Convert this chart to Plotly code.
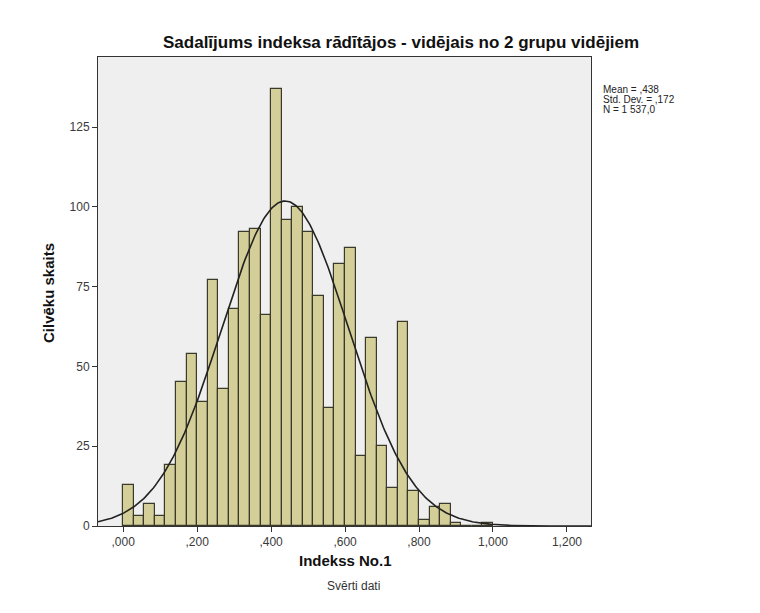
import numpy as np
import plotly.graph_objects as go

# histogram counts, bins of width 1/35 starting at 0
counts = [13, 3, 7, 3, 19, 45, 54, 39, 77, 43, 68, 92, 93, 66, 137, 96, 100, 92,
          72, 37, 82, 87, 22, 59, 25, 12, 64, 11, 2, 6, 7, 1, 0, 0, 1]
bin_start = 0.0
bin_width = 1 / 35

mean_val = 0.438
std_val = 0.172
n_val = 1537.0

x_tickvals = [0.0, 0.2, 0.4, 0.6, 0.8, 1.0, 1.2]
x_ticktext = [",000", ",200", ",400", ",600", ",800", "1,000", "1,200"]
y_tickvals = [0, 25, 50, 75, 100, 125]

title = "Sadalījums indeksa rādītājos - vidējais no 2 grupu vidējiem"
x_title = "Indekss No.1"
y_title = "Cilvēku skaits"
footer = "Svērti dati"
stats_lines = ["Mean = ,438", "Std. Dev. = ,172", "N = 1 537,0"]

FONT = "Liberation Sans, Arial, sans-serif"
W, H = 760, 613
L, R, T, B = 90, 583, 49, 518  # plot area in pixels
x_range = [-0.068, 1.265]
y_range = [0, 147]


def px(x):
    return (x - L) / (R - L)


def py(y):
    return (B - y) / (B - T)


centers = bin_start + bin_width * (np.arange(len(counts)) + 0.5)

fig = go.Figure()
fig.add_trace(go.Bar(
    x=centers,
    y=counts,
    width=bin_width,
    marker=dict(color="#d4cf98", line=dict(color="#3a3a2c", width=1.2)),
    hoverinfo="x+y",
))

# fitted normal curve from the reported statistics
xs = np.linspace(x_range[0], x_range[1], 400)
ys = n_val * bin_width / (std_val * np.sqrt(2 * np.pi)) * np.exp(-0.5 * ((xs - mean_val) / std_val) ** 2)
fig.add_trace(go.Scatter(x=xs, y=ys, mode="lines", line=dict(color="#222222", width=1.6), hoverinfo="skip"))

anns = [
    dict(text=f"<b>{title}</b>", x=px(393), y=py(35), font=dict(size=17, color="#111111")),
    dict(text=f"<b>{y_title}</b>", x=px(40), y=py(285), textangle=-90, font=dict(size=15, color="#111111")),
    dict(text=f"<b>{x_title}</b>", x=px(337), y=py(552), font=dict(size=15, color="#111111")),
    dict(text=footer, x=px(345), y=py(578), font=dict(size=12, color="#333333")),
]
for i, line in enumerate(stats_lines):
    anns.append(dict(text=line, x=px(593), y=py(81 + 10 * i), xanchor="left",
                     font=dict(size=10, color="#222222")))
for a in anns:
    a.setdefault("xanchor", "center")
    a.update(xref="paper", yref="paper", yanchor="middle", showarrow=False)

fig.update_layout(
    width=W, height=H,
    margin=dict(l=L, r=W - R, t=T, b=H - B, pad=0),
    paper_bgcolor="#ffffff",
    plot_bgcolor="#efefef",
    font=dict(family=FONT, size=12, color="#3a3a3a"),
    showlegend=False,
    bargap=0,
    annotations=anns,
)
fig.update_xaxes(
    range=x_range, tickvals=x_tickvals, ticktext=x_ticktext,
    showgrid=False, zeroline=False, showline=True, linecolor="#333333", linewidth=1, mirror=True,
    ticks="outside", ticklen=5, tickcolor="#333333",
)
fig.update_yaxes(
    range=y_range, tickvals=y_tickvals,
    showgrid=False, zeroline=False, showline=True, linecolor="#333333", linewidth=1, mirror=True,
    ticks="outside", ticklen=5, tickcolor="#333333",
)

fig.write_html("out.html")
